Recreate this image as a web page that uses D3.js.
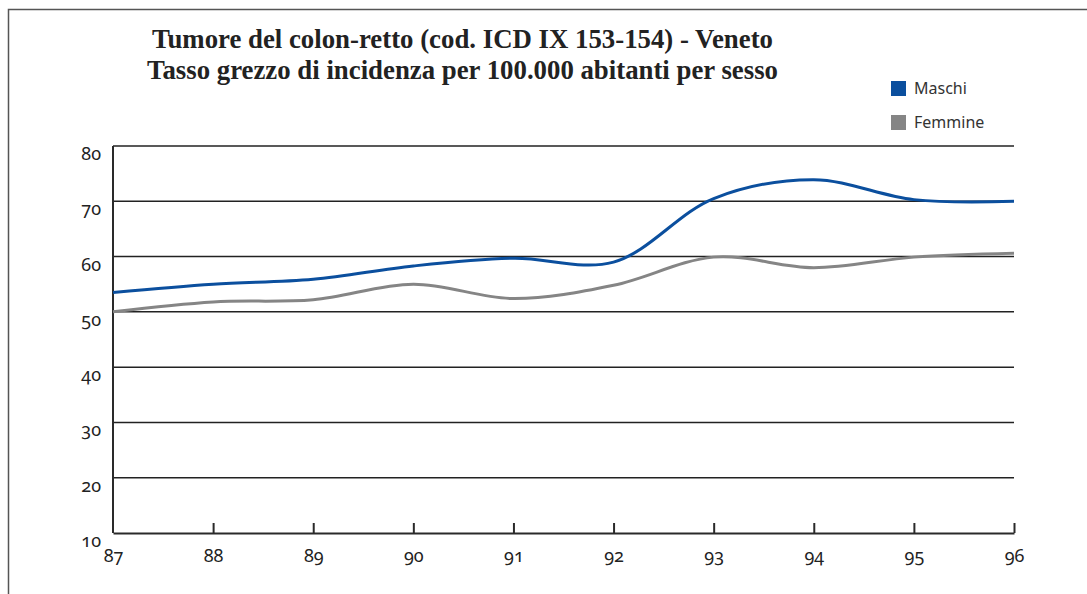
<!DOCTYPE html>
<html>
<head>
<meta charset="utf-8">
<script src="https://cdn.jsdelivr.net/npm/d3@7"></script>
<style>
  html, body { margin: 0; padding: 0; background: #fff; }
  svg { display: block; }
  .tick-label { font-family: "Noto Sans", sans-serif; font-size: 18px; fill: #222;
                font-variant-numeric: oldstyle-nums; font-feature-settings: "onum" 1; }
  .legend-label { font-family: "Noto Sans", sans-serif; font-size: 16px; fill: #333; }
  .title { font-family: "Liberation Serif", "Times New Roman", serif; font-weight: bold; font-size: 27px; fill: #222; }
</style>
</head>
<body>
<svg id="chart" width="1087" height="594"></svg>
<script>
// Years (two-digit labels) and crude incidence rates per 100,000
const years = [87, 88, 89, 90, 91, 92, 93, 94, 95, 96];
const maschi = [53.5, 55.0, 55.9, 58.3, 59.7, 59.0, 70.5, 73.9, 70.3, 70.0];
const femmine = [50.0, 51.8, 52.2, 55.0, 52.4, 54.8, 59.9, 58.0, 59.9, 60.6];
const yTicks = [10, 20, 30, 40, 50, 60, 70, 80];
const seriesNames = ["Maschi", "Femmine"];
const seriesColors = ["#0b4f9e", "#858585"];
const titleLines = [
  "Tumore del colon-retto (cod. ICD IX 153-154) - Veneto",
  "Tasso grezzo di incidenza per 100.000 abitanti per sesso"
];

const svg = d3.select("#chart");
const W = 1087, H = 594;

const x = d3.scaleLinear().domain([87, 96]).range([113, 1014]);
const y = d3.scaleLinear().domain([10, 80]).range([533, 146]);

// outer frame (top and left edges)
svg.append("path")
  .attr("d", `M8.5,${H} L8.5,9.5 L${W},9.5`)
  .attr("fill", "none").attr("stroke", "#555").attr("stroke-width", 1.5);

// title
const titleW = [621, 631];
svg.selectAll("text.title").data(titleLines).join("text")
  .attr("class", "title")
  .attr("x", 462.5)
  .attr("y", (d, i) => 48 + i * 30.5)
  .attr("text-anchor", "middle")
  .attr("textLength", (d, i) => titleW[i])
  .attr("lengthAdjust", "spacingAndGlyphs")
  .text(d => d);

// horizontal grid lines
svg.append("g").selectAll("line").data(yTicks.filter(v => v > 10)).join("line")
  .attr("x1", x(87)).attr("x2", x(96))
  .attr("y1", d => y(d)).attr("y2", d => y(d))
  .attr("stroke", "#222").attr("stroke-width", 1.5);

// y axis line
svg.append("line")
  .attr("x1", x(87)).attr("x2", x(87))
  .attr("y1", y(80)).attr("y2", y(10))
  .attr("stroke", "#2a2a2a").attr("stroke-width", 2);

// y tick labels
svg.append("g").selectAll("text").data(yTicks).join("text")
  .attr("class", "tick-label")
  .attr("x", 101)
  .attr("y", d => y(d) + 14)
  .attr("text-anchor", "end")
  .text(d => d);

// x axis with upward ticks
const xAxis = d3.axisBottom(x).tickValues(years).tickSize(-10).tickSizeOuter(0).tickFormat(d3.format("d"));
const gx = svg.append("g").attr("transform", `translate(0,${y(10)})`).call(xAxis);
gx.select(".domain").attr("stroke", "#2a2a2a").attr("stroke-width", 2);
gx.selectAll(".tick line").attr("stroke", "#2a2a2a").attr("stroke-width", 2)
  .filter(d => d === 87).remove();
gx.selectAll(".tick text")
  .attr("class", "tick-label")
  .attr("y", 0).attr("dy", "29px")
  .attr("font-family", null).attr("font-size", null);

// series lines
const line = d3.line()
  .x((d, i) => x(years[i]))
  .y(d => y(d))
  .curve(d3.curveCatmullRom.alpha(0.5));

[femmine, maschi].forEach((vals, k) => {
  const idx = k === 0 ? 1 : 0;
  svg.append("path")
    .datum(vals)
    .attr("d", line)
    .attr("fill", "none")
    .attr("stroke", seriesColors[idx])
    .attr("stroke-width", 3);
});

// legend
const lg = svg.append("g");
seriesNames.forEach((name, i) => {
  lg.append("rect")
    .attr("x", 891).attr("y", 81 + i * 34)
    .attr("width", 15).attr("height", 15)
    .attr("fill", seriesColors[i]);
  lg.append("text")
    .attr("class", "legend-label")
    .attr("x", 914).attr("y", 94 + i * 34)
    .text(name);
});
</script>
</body>
</html>
